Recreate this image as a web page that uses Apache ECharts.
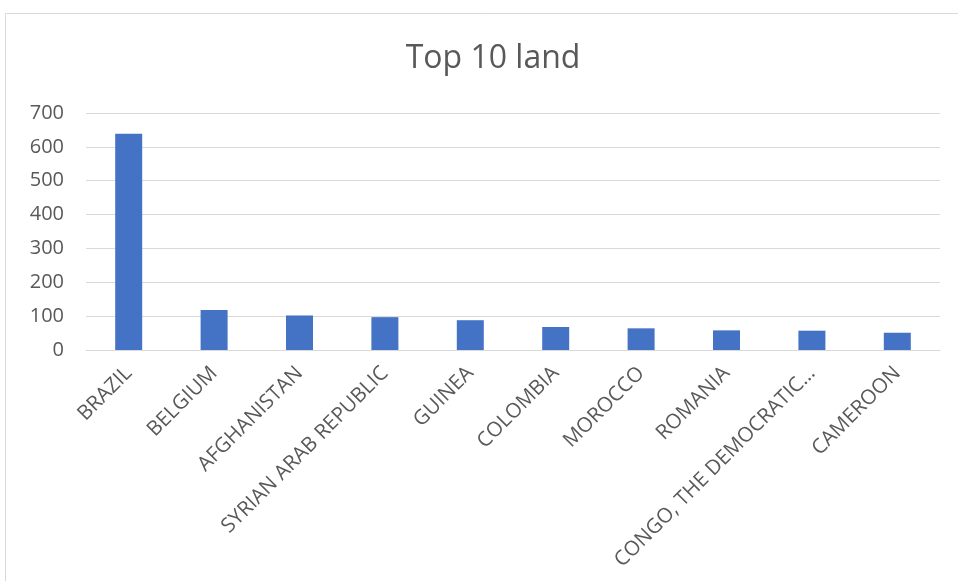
<!DOCTYPE html>
<html>
<head>
<meta charset="utf-8">
<script src="https://cdn.jsdelivr.net/npm/echarts@6/dist/echarts.min.js"></script>
<style>
  html, body { margin: 0; padding: 0; background: #fff; }
  #chart { width: 958px; height: 581px; }
</style>
</head>
<body>
<div id="chart"></div>
<script>
var countries = ['BRAZIL', 'BELGIUM', 'AFGHANISTAN', 'SYRIAN ARAB REPUBLIC', 'GUINEA',
  'COLOMBIA', 'MOROCCO', 'ROMANIA', 'CONGO, THE DEMOCRATIC…', 'CAMEROON'];
var counts = [639, 118, 102, 97, 88, 68, 64, 58, 57, 51];
var yTicks = [0, 100, 200, 300, 400, 500, 600, 700];

var myChart = echarts.init(document.getElementById('chart'));
myChart.setOption({
  animation: false,
  textStyle: { fontFamily: 'Open Sans' },
  title: {
    text: 'Top 10 land',
    left: 488,
    textAlign: 'center',
    top: 38,
    textStyle: { fontFamily: 'Open Sans', fontSize: 32, fontWeight: 'normal', color: '#595959' }
  },
  graphic: [{
    type: 'rect',
    shape: { x: 5.5, y: 13.5, width: 960, height: 580 },
    style: { fill: 'none', stroke: '#d9d9d9', lineWidth: 1 },
    silent: true
  }],
  grid: { left: 86, right: 18, top: 113, bottom: 231, containLabel: false },
  xAxis: {
    type: 'category',
    data: countries,
    axisLine: { lineStyle: { color: '#d9d9d9', width: 1 } },
    axisTick: { show: false },
    axisLabel: {
      interval: 0,
      rotate: 45,
      margin: 20,
      fontSize: 20.5,
      color: '#595959',
      fontFamily: 'Open Sans'
    }
  },
  yAxis: {
    type: 'value',
    min: yTicks[0],
    max: yTicks[yTicks.length - 1],
    interval: 100,
    axisLine: { show: false },
    axisTick: { show: false },
    splitLine: { lineStyle: { color: '#d9d9d9', width: 1 } },
    axisLabel: { fontSize: 20, color: '#595959', margin: 22, fontFamily: 'Open Sans' }
  },
  series: [{
    type: 'bar',
    data: counts,
    barWidth: 27,
    itemStyle: { color: '#4472c4' }
  }]
});
</script>
</body>
</html>
